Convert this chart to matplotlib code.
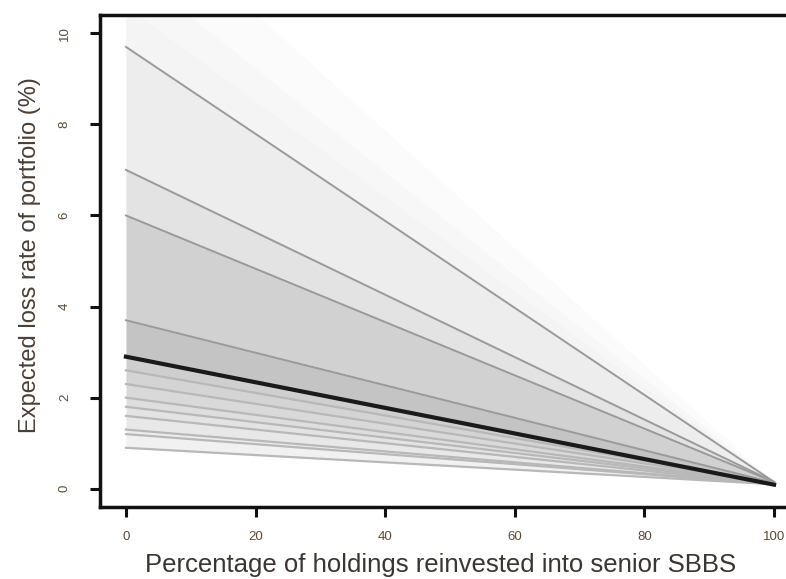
import matplotlib
matplotlib.use("Agg")
import matplotlib.pyplot as plt
import numpy as np

plt.rcParams['font.family'] = ['Liberation Sans', 'DejaVu Sans']

# Reinvestment share (%) – lines go from 0 to 100
x_ends = [0, 100]

# Scenario lines: expected loss rate (%) at 0% and 100% reinvestment
upper_start = [9.7, 7.0, 6.0, 3.7]
upper_end   = [0.15, 0.15, 0.15, 0.13]
lower_start = [2.6, 2.3, 2.0, 1.8, 1.6, 1.3, 1.2, 0.9]
lower_end   = [0.12, 0.12, 0.11, 0.11, 0.1, 0.1, 0.1, 0.1]
base_start = 2.9
base_end = 0.09

# Shading band boundaries (at 0% and 100%) and their grey levels (top to bottom)
band_start = [13.0, 11.5, 10.6, 9.7, 7.0, 6.0, 3.7, 2.9, 2.6, 2.3, 2.0, 1.8, 1.6, 1.3, 1.2, 0.9]
band_end   = [0.15, 0.15, 0.15, 0.15, 0.15, 0.15, 0.13, 0.09, 0.12, 0.12, 0.11, 0.11, 0.1, 0.1, 0.1, 0.1]
band_grey  = [0.985, 0.97, 0.955, 0.93, 0.89, 0.82, 0.77, 0.81, 0.83, 0.85, 0.87, 0.89, 0.91, 0.93, 0.945]

x_ticks = [0, 20, 40, 60, 80, 100]
y_ticks = [0, 2, 4, 6, 8, 10]

fig = plt.figure(figsize=(7.86, 5.79), dpi=100)
ax = fig.add_axes([100/786, 72/579, 700/786, 492/579])

for i, g in enumerate(band_grey):
    upper = [band_start[i], band_end[i]]
    lower = [band_start[i+1], band_end[i+1]]
    ax.fill_between(x_ends, lower, upper, color=str(g), linewidth=0, zorder=1)

for s, e in zip(upper_start, upper_end):
    ax.plot(x_ends, [s, e], color='#9a9a9a', linewidth=1.4, zorder=2)
for s, e in zip(lower_start, lower_end):
    ax.plot(x_ends, [s, e], color='#b8b8b8', linewidth=1.6, zorder=2)
ax.plot(x_ends, [base_start, base_end], color='#1a1a1a', linewidth=3, zorder=3)

ax.set_xlim(-4, 104)
ax.set_ylim(-0.4, 10.4)
ax.set_xticks(x_ticks)
ax.set_yticks(y_ticks)
ax.set_xticklabels([str(v) for v in x_ticks], fontsize=9.5)
ax.set_yticklabels([str(v) for v in y_ticks], fontsize=9.5, rotation=90, va='center')
ax.tick_params(axis='both', direction='out', length=7, width=2.2, colors='#111111',
               labelcolor='#5a4a3a')
ax.tick_params(axis='x', pad=10)
ax.tick_params(axis='y', pad=14)
for sp in ax.spines.values():
    sp.set_linewidth(2.5)
    sp.set_color('#111111')

fig.text(441/786, 1 - 565/579, 'Percentage of holdings reinvested into senior SBBS',
         ha='center', va='center', fontsize=18.5, color='#3a3530')
fig.text(30/786, 1 - 255/579, 'Expected loss rate of portfolio (%)',
         ha='center', va='center', rotation=90, fontsize=17, color='#4a3e35')

fig.savefig('out.png', dpi=100)
